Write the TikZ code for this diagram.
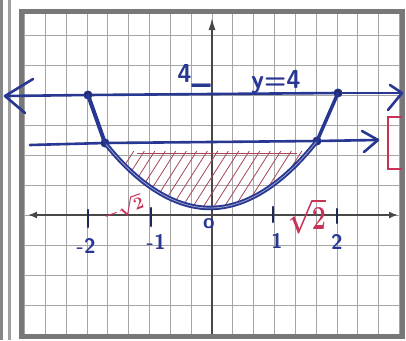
\documentclass[tikz,border=0pt]{standalone}
\usetikzlibrary{arrows.meta}
\definecolor{ink}{RGB}{40,55,145}
\definecolor{inkdark}{RGB}{30,38,90}
\definecolor{redink}{RGB}{200,50,85}
\definecolor{hatchc}{RGB}{170,70,90}
\definecolor{gridc}{RGB}{165,165,165}
\definecolor{framec}{RGB}{120,120,120}
\begin{document}
\begin{tikzpicture}[x=1pt,y=-1pt,
  gridline/.style={gridc, line width=0.9pt},
  axisline/.style={framec!60!black, line width=1.5pt},
  pen/.style={ink, line width=2.6pt, line cap=round, line join=round},
  curvepen/.style={ink, line width=4.5pt, line cap=round},
  curveinner/.style={ink!45, line width=0.8pt},
  dotnode/.style={circle, fill=inkdark, draw=ink, line width=1pt, inner sep=0pt, minimum size=8pt},
  tickmark/.style={inkdark, line width=2.6pt, line cap=round},
  lbl/.style={ink, font=\sffamily\bfseries\fontsize{21}{21}\selectfont},
  redlbl/.style={redink},
  hatchline/.style={hatchc, line width=0.8pt},
  barb/.style={ink, line width=2.6pt, line cap=round}]
\useasboundingbox (0,0) rectangle (406,340);
\fill[white] (0,0) rectangle (406,340);
% notebook margin lines
\draw[framec!90, line width=3pt] (1.5,0) -- (1.5,340);
\draw[framec!70, line width=3pt] (9,0) -- (9,340);
% grid
\foreach \i in {-9,...,9} \draw[gridline] ({212+20.83*\i},11) -- ({212+20.83*\i},336);
\foreach \j in {-6,...,3} \draw[gridline] (21,{215+30*\j}) -- (402,{215+30*\j});
% frame
\draw[framec, line width=5pt] (21,11) rectangle (402,336);
% axes
\coordinate (xl) at (28,215);
\coordinate (xr) at (398,215);
\coordinate (yb) at (212,334);
\coordinate (yt) at (212,18);
\draw[axisline, {Latex[length=9pt,width=7pt]}-{Latex[length=9pt,width=7pt]}] (xl) -- (xr);
\draw[axisline, -{Latex[length=12pt,width=7pt]}] (yb) -- (yt);
% points
\node[dotnode] (dA) at (88,95) {};
\node[dotnode] (dB) at (338,93) {};
\node[dotnode] (dC) at (105,143) {};
\node[dotnode] (dD) at (317,141) {};
\coordinate (vtx) at (210,208);
% hatching
\begin{scope}
  \clip (0,151) rectangle (406,340);
  \clip (dC.center) parabola bend (vtx) (dD.center) -- cycle;
  \foreach \s in {0,...,18} \draw[hatchline] ({95+10.5*\s},212) -- ++(42,-66);
\end{scope}
\draw[hatchc, line width=0.8pt] (137,153) -- (297,153);
% parabola
\draw[curvepen] (dC.center) parabola bend (vtx) (dD.center);
\draw[curveinner] (dC.center) parabola bend (vtx) (dD.center);
\draw[pen, line width=4pt] (dA.center) -- (dC.center);
\draw[pen, line width=3.5pt] (dB.center) -- (dD.center);
% line y=4
\coordinate (Lt) at (5,96);
\coordinate (Rt) at (402,93);
\draw[pen] (dA) -- (dB);
\draw[pen] (dA) -- (Lt);
\draw[pen] (dB) -- (Rt);
\draw[barb] (Lt) -- (33,79);
\draw[barb] (Lt) -- (25,113);
\draw[barb] (Rt) -- (390,85);
\draw[barb] (Rt) -- (388,110);
% second line
\coordinate (Sl) at (30,145);
\coordinate (Sr) at (378,140);
\draw[pen] (Sl) -- (dC);
\draw[pen] (dC) -- (dD);
\draw[pen] (dD) -- (Sr);
\draw[barb] (Sr) -- (362,131);
\draw[barb] (Sr) -- (364,152);
% ticks
\draw[tickmark] (88,210) -- (88,227);
\draw[tickmark] (151,208) -- (151,226);
\draw[tickmark] (273,207) -- (273,222);
\draw[tickmark] (337,209) -- (337,223);
% tick labels
\node[lbl] (lm2) at (86,246) {-2};
\node[lbl] (lm1) at (156,242) {-1};
\node[lbl] (l0) at (209,224) {o};
\node[lbl] (l1) at (277,241) {1};
\node[lbl] (l2) at (337,242) {2};
% red labels
\node[redlbl, rotate=20, font=\boldmath\fontsize{18}{18}\selectfont] (rs1) at (123,208) {$-\sqrt{2}$};
\node[redlbl, yscale=1.35, font=\boldmath\fontsize{24}{24}\selectfont] (rs2) at (307,216) {$\sqrt{2}$};
% red bracket
\draw[redink, line width=2.2pt] (402,117) -- (388,117) -- (388,169) -- (402,169);
% equation text
\node[lbl, font=\sffamily\bfseries\fontsize{26}{26}\selectfont, anchor=south] (t4) at (194,91) {4\_};
\node[lbl, font=\sffamily\bfseries\fontsize{26}{26}\selectfont, anchor=south] (teq) at (276,97) {y=4};
\end{tikzpicture}
\end{document}
